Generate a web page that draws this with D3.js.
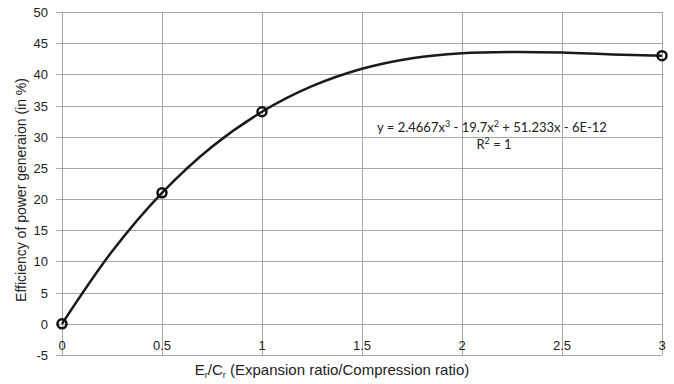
<!DOCTYPE html>
<html>
<head>
<meta charset="utf-8">
<script src="https://cdn.jsdelivr.net/npm/d3@7"></script>
<style>
  body { margin: 0; background: #fff; }
  svg text { font-family: "Liberation Sans", Arial, sans-serif; fill: #222; }
</style>
</head>
<body>
<svg id="chart"></svg>
<script>
// measured points (Er/Cr, efficiency %)
const pointX = [0, 0.5, 1, 3];
const pointY = [0, 21, 34, 43];
// polynomial trend line
const trendX = [0, 0.25, 0.5, 0.75, 1, 1.25, 1.5, 1.75, 2, 2.25, 2.5, 2.75, 3];
const trendY = [0, 11.6, 21, 28.4, 34, 38.1, 40.9, 42.6, 43.4, 43.6, 43.5, 43.2, 43];
const xTicks = [0, 0.5, 1, 1.5, 2, 2.5, 3];
const yTicks = [-5, 0, 5, 10, 15, 20, 25, 30, 35, 40, 45, 50];
const equationText = ['y = 2.4667x', '3', ' - 19.7x', '2', ' + 51.233x - 6E-12'];

(function() {
  const svgDim = {w: 674, h: 384},
    $svg = d3.select('#chart').attr('width', svgDim.w).attr('height', svgDim.h);

  const xScale = d3.scaleLinear().domain([0, 3]).range([62, 662]),
    yScale = d3.scaleLinear().domain([-5, 50]).range([355, 12]);

  // grid
  $svg.append('g').selectAll('line').data(yTicks).enter().append('line')
    .attr('x1', xScale(0) - 6).attr('x2', xScale(3))
    .attr('y1', (d) => Math.round(yScale(d)) + 0.5).attr('y2', (d) => Math.round(yScale(d)) + 0.5)
    .attr('stroke', '#a6a6a6').attr('stroke-width', 1);
  $svg.append('g').selectAll('line').data(xTicks).enter().append('line')
    .attr('x1', (d) => Math.round(xScale(d)) + 0.5).attr('x2', (d) => Math.round(xScale(d)) + 0.5)
    .attr('y1', yScale(50)).attr('y2', yScale(-5))
    .attr('stroke', '#a6a6a6').attr('stroke-width', 1);

  // y tick labels
  $svg.append('g').selectAll('text').data(yTicks).enter().append('text')
    .attr('x', xScale(0) - 14)
    .attr('y', (d) => yScale(d) + 5)
    .attr('text-anchor', 'end')
    .attr('font-size', 13)
    .text((d) => d);
  // x tick labels (drawn below the 0 line)
  $svg.append('g').selectAll('text').data(xTicks).enter().append('text')
    .attr('x', (d) => xScale(d))
    .attr('y', yScale(0) + 26)
    .attr('text-anchor', 'middle')
    .attr('font-size', 13)
    .text((d) => d);

  // axis titles
  $svg.append('text')
    .text('Efficiency of power generaion (in %)')
    .attr('text-anchor', 'middle')
    .attr('font-size', 14)
    .attr('transform', 'translate(26, ' + 190 + ') rotate(-90)');
  const xTitle = $svg.append('text')
    .attr('text-anchor', 'middle')
    .attr('font-size', 15)
    .attr('x', 332).attr('y', 375);
  xTitle.append('tspan').text('E');
  xTitle.append('tspan').text('r').attr('font-size', 9).attr('dy', 3);
  xTitle.append('tspan').text('/C').attr('dy', -3);
  xTitle.append('tspan').text('r').attr('font-size', 9).attr('dy', 3);
  xTitle.append('tspan').text(' (Expansion ratio/Compression ratio)').attr('dy', -3);

  // trend line
  const line = d3.line()
    .x((d, i) => xScale(trendX[i]))
    .y((d, i) => yScale(trendY[i]))
    .curve(d3.curveCatmullRom);
  $svg.append('path')
    .datum(trendX)
    .attr('d', line)
    .attr('fill', 'none')
    .attr('stroke', '#1a1a1a')
    .attr('stroke-width', 2.5);

  // markers
  $svg.append('g').selectAll('circle').data(pointX).enter().append('circle')
    .attr('cx', (d) => xScale(d))
    .attr('cy', (d, i) => yScale(pointY[i]))
    .attr('r', 4.5)
    .attr('fill', 'none')
    .attr('stroke', '#111')
    .attr('stroke-width', 2.5);

  // equation label
  const eq = $svg.append('text')
    .attr('x', 492).attr('y', 132)
    .attr('text-anchor', 'middle')
    .attr('font-size', 13)
    .style('font-family', 'Lato, "Open Sans", sans-serif');
  equationText.forEach((t, i) => {
    const isSup = i % 2 == 1;
    eq.append('tspan').text(t)
      .attr('font-size', isSup ? 9 : 13)
      .attr('dy', isSup ? -5 : (i > 0 ? 5 : 0));
  });
  const r2 = $svg.append('text')
    .attr('x', 494).attr('y', 149)
    .attr('text-anchor', 'middle')
    .attr('font-size', 13)
    .style('font-family', 'Lato, "Open Sans", sans-serif');
  r2.append('tspan').text('R');
  r2.append('tspan').text('2').attr('font-size', 9).attr('dy', -5);
  r2.append('tspan').text(' = 1').attr('dy', 5);
})();
</script>
</body>
</html>
